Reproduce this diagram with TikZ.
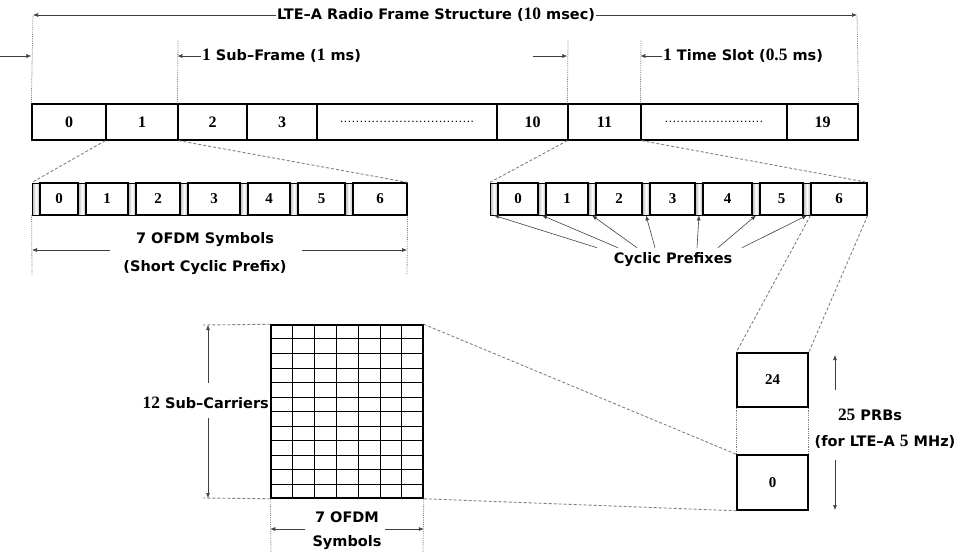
\documentclass[tikz,border=0pt]{standalone}
\usepackage{fontspec}
\setmainfont{DejaVu Sans}
\newfontfamily\numfont{Liberation Serif}
\newfontfamily\lnum{Liberation Serif}[Scale=1.2]
\usetikzlibrary{arrows.meta,calc}
\newcommand\dotsrow[1]{\makebox[#1pt]{\fontsize{9}{9}\selectfont\dotfill}}

\begin{document}
\begin{tikzpicture}[
    x=1pt, y=-1pt,
    lbl/.style={font=\bfseries\fontsize{14.5}{16}\selectfont, inner sep=1pt},
    framecell/.style={draw, line width=1.3pt, minimum height=36pt, inner sep=0pt, font=\numfont\bfseries\fontsize{16}{18}\selectfont},
    symbox/.style={draw, line width=1.2pt, minimum height=32pt, inner sep=0pt, font=\numfont\bfseries\fontsize{15}{17}\selectfont},
    cpstrip/.style={draw, line width=0.8pt, minimum height=32pt, minimum width=8pt, inner sep=0pt, left color=gray!60, right color=gray!60, middle color=white},
    prb/.style={draw, line width=1.5pt, minimum width=71pt, inner sep=0pt, font=\numfont\bfseries\fontsize{15}{17}\selectfont},
    gridline/.style={line width=0.7pt},
    dimarrow/.style={-{Latex[length=5pt,width=4pt]}, line width=0.6pt, black!75},
    zoomline/.style={gray, line width=0.9pt, dash pattern=on 3pt off 2pt},
    extline/.style={gray, line width=0.8pt, densely dotted}
]
\useasboundingbox (0,0) rectangle (961,552);

\foreach \i/\xa/\xb/\lab in {0/32/106/0, 1/106/178/1, 2/178/247/2, 3/247/317/3, 4/317/497/{\dotsrow{135}}, 5/497/568/10, 6/568/641/11, 7/641/787/{\dotsrow{100}}, 8/787/858/19}
  \node[framecell, minimum width={\xb-\xa}] (f\i) at ({(\xa+\xb)/2},122) {\lab};

\node[lbl] (title) at (436,15) {LTE–A Radio Frame Structure ({\lnum 10} msec)};
\coordinate (t0) at (33,15);
\coordinate (t1) at (857,15);
\draw[dimarrow] (title.west) -- (t0);
\draw[dimarrow] (title.east) -- (t1);
\draw[extline] (f0.north west) -- (t0);
\draw[extline] (f8.north east) -- (t1);

\node[lbl, anchor=west] (sf) at (201,56) {{\lnum 1} Sub–Frame ({\lnum 1} ms)};
\coordinate (sfin) at (0,56);
\coordinate (sftop) at (178,40);
\draw[dimarrow] (sfin) -- (sfin -| f0.north west);
\draw[extline] (f2.north west) -- (sftop);
\draw[dimarrow] (sf.west) -- (sf.west -| f2.north west);

\node[lbl, anchor=west] (ts) at (662,56) {{\lnum 1} Time Slot ({\lnum 0.5} ms)};
\coordinate (tsin) at (533,56);
\coordinate (tstopa) at (568,40);
\coordinate (tstopb) at (641,40);
\draw[dimarrow] (tsin) -- (tsin -| f6.north west);
\draw[extline] (f6.north west) -- (tstopa);
\draw[extline] (f7.north west) -- (tstopb);
\draw[dimarrow] (ts.west) -- (ts.west -| f7.north west);

\foreach \i/\xa/\xb in {0/32/78, 1/78/128, 2/128/180, 3/180/240, 4/240/290, 5/290/345, 6/345/407}{
  \node[cpstrip] (ap\i) at (\xa+4,199) {};
  \node[symbox, minimum width={\xb-\xa-8}] (a\i) at ({(\xa+8+\xb)/2},199) {\i};
}
\foreach \i/\xa/\xb in {0/490/538, 1/538/588, 2/588/642, 3/642/695, 4/695/752, 5/752/803, 6/803/867}{
  \node[cpstrip] (bp\i) at (\xa+4,199) {};
  \node[symbox, minimum width={\xb-\xa-8}] (b\i) at ({(\xa+8+\xb)/2},199) {\i};
}
\draw[zoomline] (f1.south west) -- (ap0.north west);
\draw[zoomline] (f1.south east) -- (a6.north east);
\draw[zoomline] (f6.south west) -- (bp0.north west);
\draw[zoomline] (f6.south east) -- (b6.north east);

\node[lbl] (sym) at (205,240) {7 OFDM Symbols};
\node[lbl] (scp) at (205,268) {(Short Cyclic Prefix)};
\coordinate (ext0) at (32,274);
\coordinate (ext1) at (407,274);
\coordinate (syml) at (110,250);
\coordinate (symr) at (302,250);
\draw[extline] (ap0.south west) -- (ext0);
\draw[extline] (a6.south east) -- (ext1);
\draw[dimarrow] (syml) -- (syml -| ext0);
\draw[dimarrow] (symr) -- (symr -| ext1);

\node[lbl] (cp) at (673,260) {Cyclic Prefixes};
\foreach \i/\dx in {0/-76, 1/-55, 2/-36, 3/-18, 4/24, 5/45, 6/69}
  \draw[dimarrow] ([xshift=\dx pt, yshift=4pt]cp.north) -- (bp\i.south);

\node[prb, minimum height=54pt] (p24) at (772.5,380) {24};
\node[prb, minimum height=55pt] (p0) at (772.5,482.5) {0};
\draw[zoomline] (b6.south west) -- (p24.north west);
\draw[zoomline] (b6.south east) -- (p24.north east);
\draw[extline] (p24.south west) -- (p0.north west);
\draw[extline] (p24.south east) -- (p0.north east);

\node[lbl] (nprb) at (870,415) {{\lnum 25} PRBs};
\node[lbl] (bw) at (885,442) {(for LTE–A {\lnum 5} MHz)};
\coordinate (up0) at (835,390);
\coordinate (up1) at (835,355);
\coordinate (dn0) at (835,460);
\coordinate (dn1) at (835,510);
\draw[dimarrow] (up0) -- (up1);
\draw[dimarrow] (dn0) -- (dn1);

\node[draw, line width=1.5pt, minimum width=152pt, minimum height=173pt, inner sep=0pt] (g) at (347,411.5) {};
\foreach \k in {1,...,6}
  \draw[gridline] ($(g.north west)!\k/7!(g.north east)$) -- ($(g.south west)!\k/7!(g.south east)$);
\foreach \k in {1,...,11}
  \draw[gridline] ($(g.north west)!\k/12!(g.south west)$) -- ($(g.north east)!\k/12!(g.south east)$);
\draw[zoomline] (g.north east) -- (p0.north west);
\draw[zoomline] (g.south east) -- (p0.south west);

\node[lbl, anchor=east] (sc) at (270,403) {{\lnum 12} Sub–Carriers};
\coordinate (sc0) at (203,325);
\coordinate (sc1) at (203,498);
\coordinate (sca) at (208,383);
\coordinate (scb) at (208,418);
\draw[zoomline] (g.north west) -- (sc0);
\draw[zoomline] (g.south west) -- (sc1);
\draw[dimarrow] (sca) -- (sca |- sc0);
\draw[dimarrow] (scb) -- (scb |- sc1);

\node[lbl] (go) at (347,517) {7 OFDM};
\node[lbl] (gs) at (347,543) {Symbols};
\coordinate (gx0) at (271,552);
\coordinate (gx1) at (423,552);
\coordinate (gal) at (305,529);
\coordinate (gar) at (385,529);
\draw[extline] (g.south west) -- (gx0);
\draw[extline] (g.south east) -- (gx1);
\draw[dimarrow] (gal) -- (gal -| g.south west);
\draw[dimarrow] (gar) -- (gar -| g.south east);
\end{tikzpicture}
\end{document}
